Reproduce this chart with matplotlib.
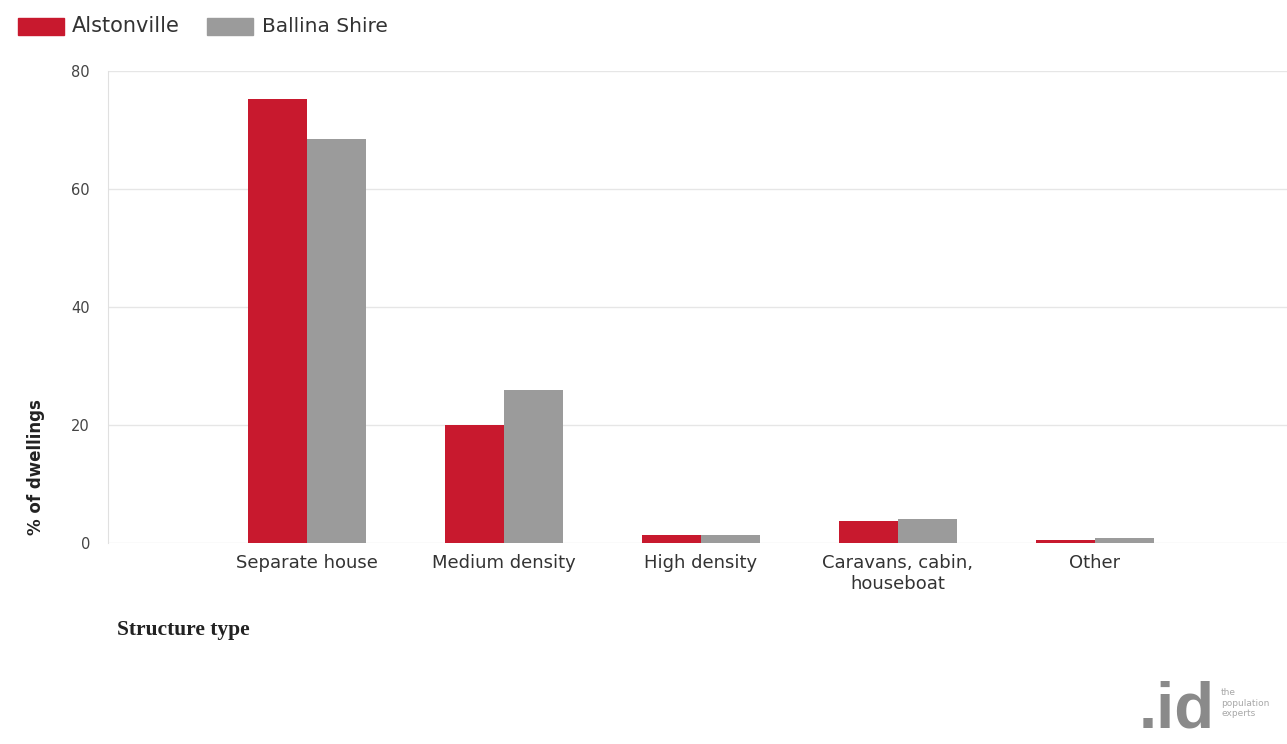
import matplotlib
matplotlib.use("Agg")
import matplotlib.pyplot as plt
from matplotlib.patches import Rectangle
import numpy as np

categories = ["Separate house", "Medium density", "High density", "Caravans, cabin,\nhouseboat", "Other"]
alstonville = [75.2, 20.0, 1.4, 3.7, 0.5]
ballina = [68.4, 25.9, 1.4, 4.1, 0.8]
series_names = ["Alstonville", "Ballina Shire"]
yticks = [0, 20, 40, 60, 80]

red = "#C8192E"
grey = "#9B9B9B"
W, H = 1287, 744

fig = plt.figure(figsize=(12.87, 7.44), dpi=100)
ax = fig.add_axes([108 / W, 1 - 543 / H, 1182 / W, 472 / H])

x = np.arange(1, len(categories) + 1)
w = 0.3
ax.bar(x - w / 2, alstonville, width=w, color=red, zorder=3)
ax.bar(x + w / 2, ballina, width=w, color=grey, zorder=3)

ax.set_xlim(-0.01, 5.99)
ax.set_ylim(0, 80)
ax.set_yticks(yticks)
ax.set_yticklabels([str(v) for v in yticks], fontsize=10.5, color="#444444")
ax.set_xticks(x)
ax.set_xticklabels(categories, fontsize=13, color="#333333", linespacing=1.2)
ax.tick_params(axis="both", length=0)
ax.tick_params(axis="y", pad=13)
ax.tick_params(axis="x", pad=8)
ax.grid(axis="y", color="#E6E6E6", linewidth=1, zorder=0)
for s in ["top", "right", "bottom"]:
    ax.spines[s].set_visible(False)
ax.spines["left"].set_color("#E0E0E0")

# y label
fig.text(36 / W, 1 - 467 / H, "% of dwellings", rotation=90, fontsize=12, fontweight="bold",
         color="#222222", ha="center", va="center")
# x label
fig.text(117 / W, 1 - 630 / H, "Structure type", fontsize=15.5, fontweight="bold",
         family=["Liberation Serif", "DejaVu Serif"], color="#222222", ha="left", va="center")

# legend
fig.patches.append(Rectangle((18 / W, 1 - 35 / H), 46 / W, 17 / H,
                             transform=fig.transFigure, color=red))
fig.text(72 / W, 1 - 26 / H, series_names[0], fontsize=15, color="#333333", va="center")
fig.patches.append(Rectangle((207 / W, 1 - 35 / H), 46 / W, 17 / H,
                             transform=fig.transFigure, color=grey))
fig.text(262 / W, 1 - 26 / H, series_names[1], fontsize=14.5, color="#333333", va="center")

# logo
fig.text(1139 / W, 1 - 728 / H, ".id", fontsize=47, fontweight="bold", color="#8A8A8A",
         family=["Liberation Sans Narrow", "DejaVu Sans Condensed", "Liberation Sans"],
         ha="left", va="baseline")
fig.text(1221 / W, 1 - 703 / H, "the\npopulation\nexperts", fontsize=6.5, color="#A8A8A8",
         ha="left", va="center", linespacing=1.25)

fig.savefig("out.png", dpi=100)
